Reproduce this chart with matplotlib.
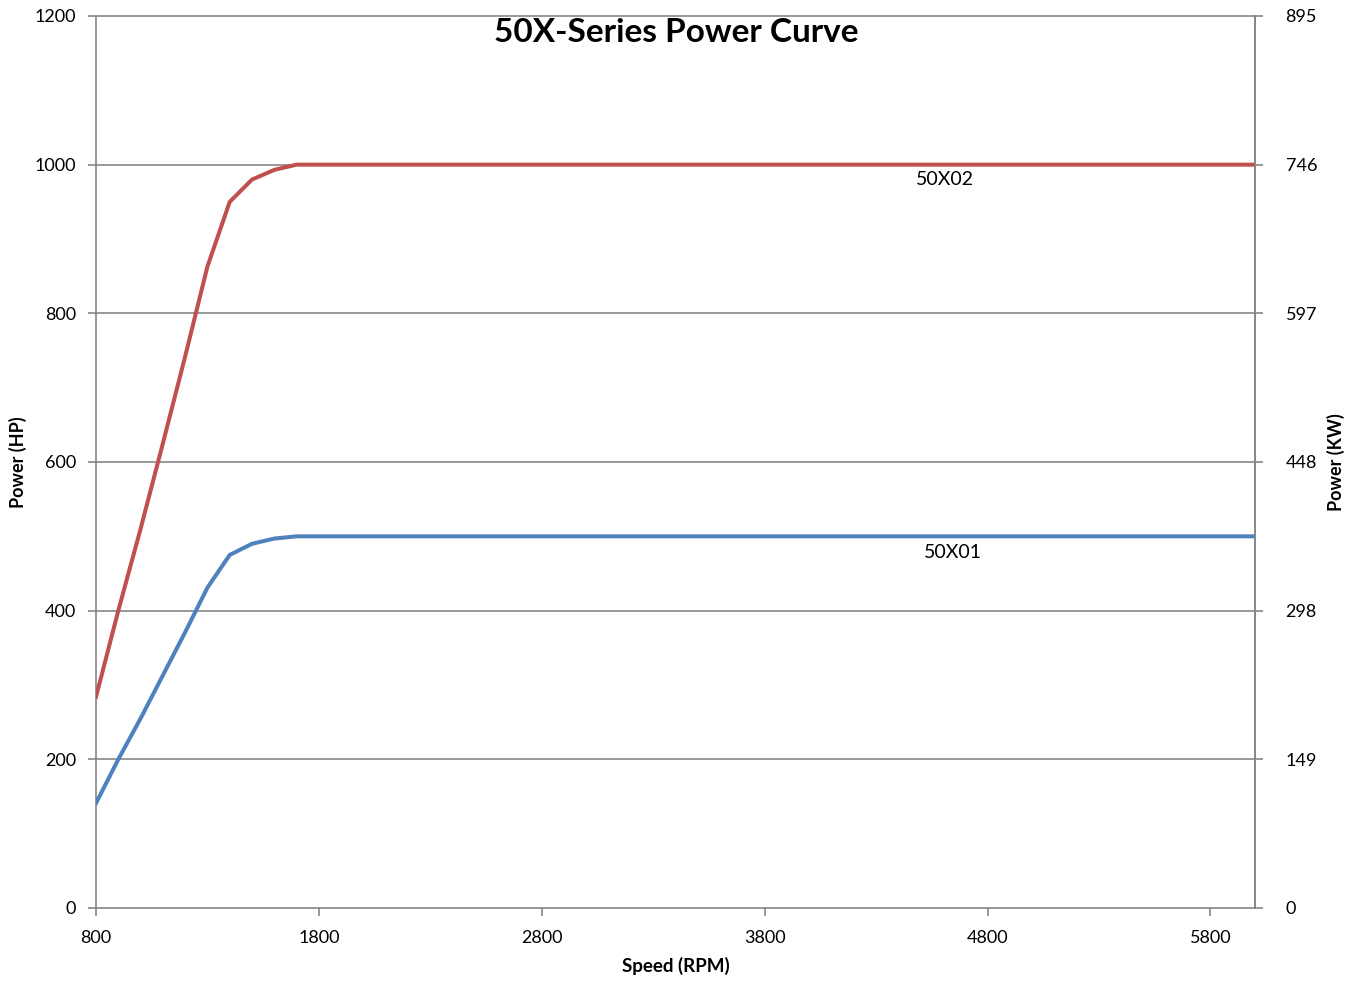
import matplotlib
matplotlib.use("Agg")
import matplotlib.pyplot as plt

plt.rcParams['font.family'] = ['Lato', 'DejaVu Sans']

# Data
rpm = [800, 900, 1000, 1100, 1200, 1300, 1400, 1500, 1600, 1700, 6000]
hp_50x02 = [284, 400, 510, 625, 742, 863, 950, 980, 993, 1000, 1000]
hp_50x01 = [141, 200, 255, 313, 371, 431, 475, 490, 497, 500, 500]
hp_ticks = [0, 200, 400, 600, 800, 1000, 1200]
kw_labels = ['0', '149', '298', '448', '597', '746', '895']
x_ticks = [800, 1800, 2800, 3800, 4800, 5800]

W, H = 1358, 981
fig = plt.figure(figsize=(W / 100, H / 100), dpi=100)
ax = fig.add_axes([96 / W, 1 - 908 / H, (1255 - 96) / W, (908 - 16) / H])

grid_c = '#868686'
ax.plot(rpm, hp_50x02, color='#C0504D', lw=2.9, solid_joinstyle='round', zorder=3)
ax.plot(rpm, hp_50x01, color='#4F81BD', lw=2.9, solid_joinstyle='round', zorder=3)

ax.set_xlim(800, 6000)
ax.set_ylim(0, 1200)
ax.set_xticks(x_ticks)
ax.set_yticks(hp_ticks)
ax.tick_params(axis='both', labelsize=13, color=grid_c, length=6, width=1.2, direction='out')
ax.tick_params(axis='y', pad=8.5)
ax.tick_params(axis='x', pad=10)
for y in hp_ticks[1:]:
    ax.axhline(y, color=grid_c, lw=1.2, zorder=1, clip_on=False)

ax.spines['top'].set_visible(False)
for s in ['left', 'right', 'bottom']:
    ax.spines[s].set_color(grid_c)
    ax.spines[s].set_linewidth(1.2)

ax2 = ax.twinx()
ax2.set_ylim(0, 1200)
ax2.set_yticks(hp_ticks)
ax2.set_yticklabels(kw_labels)
ax2.tick_params(axis='y', labelsize=13, color=grid_c, length=6, width=1.2, pad=16)
for s in ['top', 'left', 'bottom']:
    ax2.spines[s].set_visible(False)
ax2.spines['right'].set_color(grid_c)
ax2.spines['right'].set_linewidth(1.2)

ax.set_xlabel('Speed (RPM)', fontsize=13.5, fontweight='bold', labelpad=8)
ax.set_ylabel('Power (HP)', fontsize=13, fontweight='bold')
ax2.set_ylabel('Power (KW)', fontsize=13, fontweight='bold')
ax.yaxis.set_label_coords(-(96 - 27) / (1255 - 96), 0.5)
ax2.yaxis.set_label_coords(1 + (1327 - 1255) / (1255 - 96), 0.5)

ax.text(4610, 980, '50X02', fontsize=14, ha='center', va='center')
ax.text(4645, 478, '50X01', fontsize=14, ha='center', va='center')

fig.text(676 / W, 1 - 33 / H, '50X-Series Power Curve', fontsize=24, fontweight='bold',
         ha='center', va='center')

fig.savefig('out.png', dpi=100)
